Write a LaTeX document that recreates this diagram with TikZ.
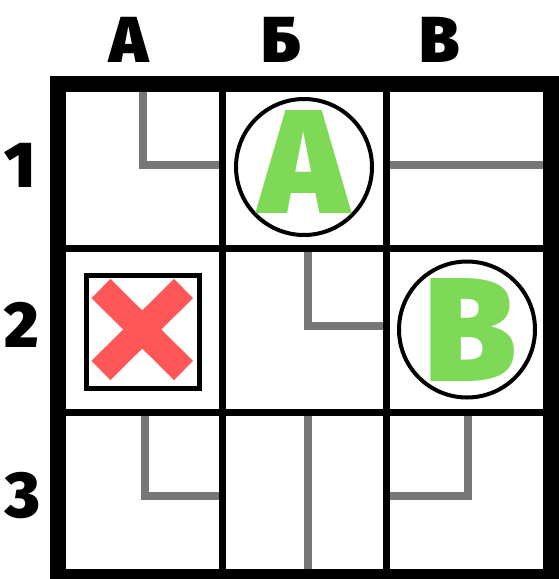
\documentclass[tikz,border=0pt]{standalone}
\usepackage{fontspec}
\IfFontExistsTF{Fira Sans Black}{\newfontfamily\heavy{Fira Sans Black}}{\newfontfamily\heavy{DejaVu Sans}[UprightFont=* Bold]}
\definecolor{lgreen}{HTML}{7ED957}
\definecolor{lred}{HTML}{FF5757}
\definecolor{pathgray}{HTML}{777777}
\tikzset{
  outerframe/.style={line width=16pt, draw=black},
  innerline/.style={line width=7pt, draw=black},
  route/.style={line width=8pt, draw=pathgray, line join=miter},
  ring/.style={circle, draw=black, line width=4pt, minimum size=136pt, inner sep=0pt},
  bigletter/.style={inner sep=0pt, text=lgreen, font=\heavy\fontsize{148}{148}\selectfont},
  axislabel/.style={inner sep=0pt, text=black, font=\heavy\fontsize{65}{65}\selectfont},
  crossbar/.style={line width=27pt, draw=lred, line cap=butt},
  crossbox/.style={draw=black, line width=5pt}
}
\begin{document}
\begin{tikzpicture}[x=1pt, y=-1pt]
\useasboundingbox (0,0) rectangle (558,579);
% labels
\node[axislabel] (ca) at (129.5,39.5) {А};
\node[axislabel] (cb) at (281.5,39.5) {Б};
\node[axislabel] (cc) at (440,39.5) {В};
\node[axislabel] (r1) at (20.5,165) {1};
\node[axislabel] (r2) at (22,324.5) {2};
\node[axislabel] (r3) at (23,495.5) {3};
% gray routes
\draw[route] (143,92) -- (143,164.5) -- (222,164.5);
\draw[route] (386,165) -- (551,165);
\draw[route] (308,248) -- (308,325.5) -- (386,325.5);
\draw[route] (145,412) -- (145,496) -- (222,496);
\draw[route] (308,412) -- (308,577);
\draw[route] (386,496) -- (468,496) -- (468,412);
% grid
\draw[innerline] (222.5,84) -- (222.5,577);
\draw[innerline] (386,84) -- (386,577);
\draw[innerline] (57.5,248) -- (551,248);
\draw[innerline] (57.5,412) -- (551,412);
\draw[outerframe] (57.5,84) rectangle (551,577);
% circles with letters
\node[ring] (ringA) at (304,167) {};
\node[bigletter] (letA) at (304,161.6) {А};
\node[ring] (ringB) at (467,329.5) {};
\node[bigletter] (letB) at (471,330) {В};
% cross box
\node[crossbox, minimum size=113pt, inner sep=0pt] (xbox) at (142.5,331.5) {};
\draw[crossbar] (101,288.5) -- (183.5,370.5);
\draw[crossbar] (183.5,288.5) -- (101,370.5);
\end{tikzpicture}
\end{document}
